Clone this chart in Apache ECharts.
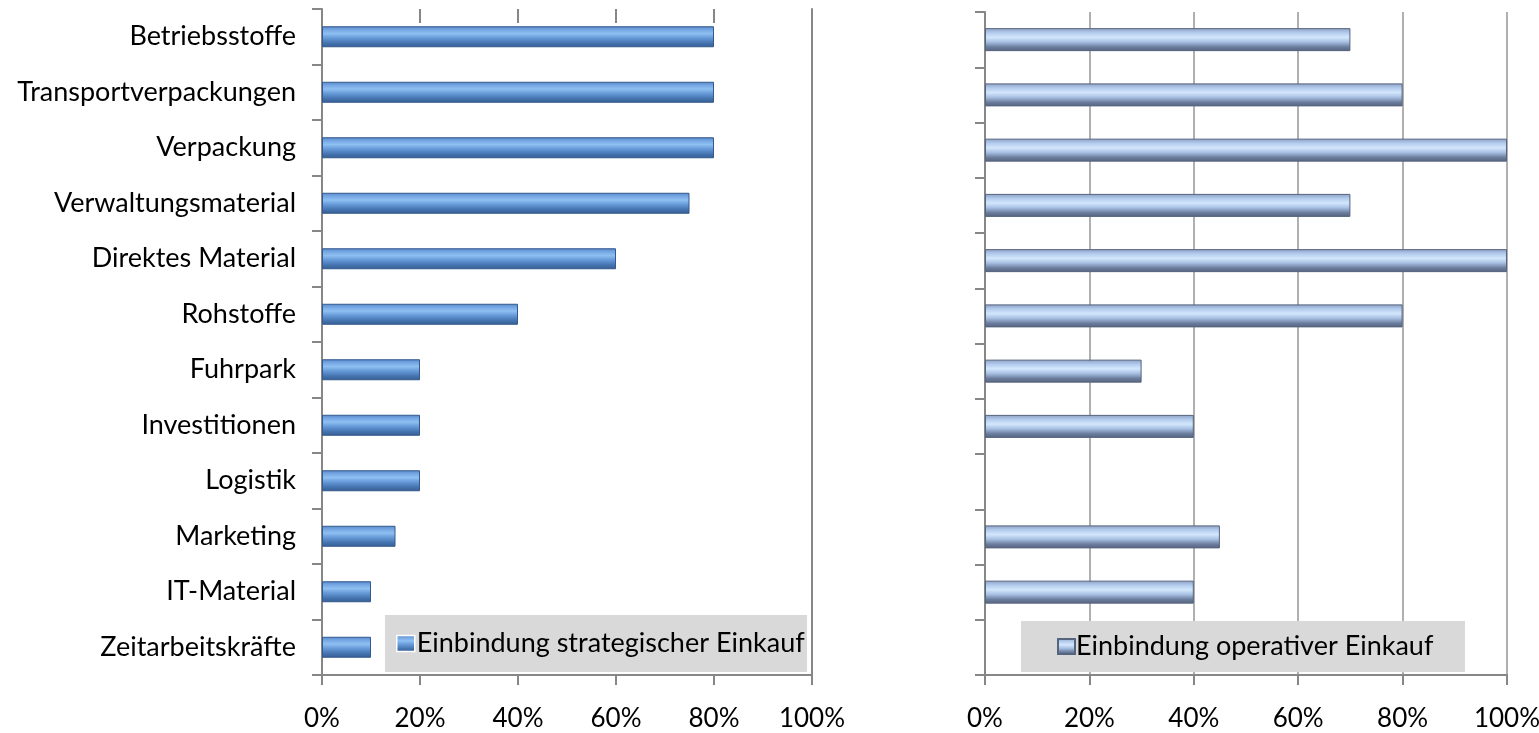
<!DOCTYPE html>
<html>
<head>
<meta charset="utf-8">
<script src="https://cdn.jsdelivr.net/npm/echarts@6/dist/echarts.min.js"></script>
<style>
html,body{margin:0;padding:0;background:#fff;}
#chart{width:1539px;height:733px;}
</style>
</head>
<body>
<div id="chart"></div>
<script>
const categories = ['Betriebsstoffe','Transportverpackungen','Verpackung','Verwaltungsmaterial','Direktes Material','Rohstoffe','Fuhrpark','Investitionen','Logistik','Marketing','IT-Material','Zeitarbeitskräfte'];
const strategicValues = [80,80,80,75,60,40,20,20,20,15,10,10];
const operativeValues = [70,80,100,70,100,80,30,40,null,45,40,null];
const xTickValues = [0,20,40,60,80,100];
const seriesNames = ['Einbindung strategischer Einkauf','Einbindung operativer Einkauf'];

const FONT = 'Lato';
const axisColor = '#878787';

const chart = echarts.init(document.getElementById('chart'));

const leftGrad = new echarts.graphic.LinearGradient(0,0,0,1,[
  {offset:0,color:'#5486c8'},
  {offset:0.15,color:'#73a4e2'},
  {offset:0.35,color:'#8fc0f2'},
  {offset:0.55,color:'#679bd9'},
  {offset:0.8,color:'#4574b0'},
  {offset:1,color:'#365d92'}
]);
const rightGrad = new echarts.graphic.LinearGradient(0,0,0,1,[
  {offset:0,color:'#8aa0c4'},
  {offset:0.2,color:'#b3cbed'},
  {offset:0.4,color:'#d3e7fc'},
  {offset:0.6,color:'#a8c0e3'},
  {offset:0.82,color:'#6b7d9d'},
  {offset:1,color:'#55637d'}
]);

function valueAxis(gridIndex, split){
  return {
    type:'value', gridIndex:gridIndex, min:0, max:100, interval:20,
    axisLine:{show:true,onZero:false,lineStyle:{color:axisColor,width:2}},
    axisTick:{show:true,length:10,lineStyle:{color:axisColor,width:2}},
    axisLabel:{formatter:function(v){return v+'%';},fontFamily:FONT,fontSize:26,color:'#000',margin:31},
    splitLine:{show:split,lineStyle:{color:'#969696',width:1.5}}
  };
}

const option = {
  animation:false,
  textStyle:{fontFamily:FONT},
  grid:[
    {left:322,top:9,width:490,height:666,containLabel:false,outerBoundsMode:'none'},
    {left:985,top:12,width:522,height:663,containLabel:false,outerBoundsMode:'none'}
  ],
  xAxis:[
    valueAxis(0,false),
    valueAxis(1,true),
    {type:'value',gridIndex:0,position:'top',min:0,max:100,interval:20,
     axisLine:{show:false,onZero:false},axisLabel:{show:false},splitLine:{show:false},
     axisTick:{show:true,inside:true,length:14,lineStyle:{color:axisColor,width:2}}}
  ],
  yAxis:[
    {type:'category',gridIndex:0,data:categories,inverse:true,
     axisLine:{show:true,onZero:false,lineStyle:{color:axisColor,width:2}},
     axisTick:{show:true,length:10,lineStyle:{color:axisColor,width:2}},
     axisLabel:{fontFamily:FONT,fontSize:27,color:'#000',margin:26}},
    {type:'category',gridIndex:1,data:categories,inverse:true,
     axisLine:{show:true,onZero:false,lineStyle:{color:axisColor,width:2}},
     axisTick:{show:true,length:10,lineStyle:{color:axisColor,width:2}},
     axisLabel:{show:false}},
    {type:'category',gridIndex:0,data:categories,inverse:true,position:'right',
     axisLine:{show:true,onZero:false,lineStyle:{color:axisColor,width:2}},
     axisTick:{show:false},axisLabel:{show:false}}
  ],
  graphic:[
    {type:'rect',z:3,shape:{x:385,y:615,width:422,height:57},style:{fill:'#d9d9d9'}},
    {type:'rect',z:3,shape:{x:1021,y:621,width:444,height:51},style:{fill:'#d9d9d9'}}
  ],
  legend:[
    {data:[{name:seriesNames[0],icon:'rect'}],left:396,top:630,padding:0,itemWidth:18,itemHeight:16,itemGap:0,
     textStyle:{fontFamily:FONT,fontSize:27,color:'#000',padding:[0,0,0,-3]},z:5,
     itemStyle:{borderColor:'#fff',borderWidth:1.5}},
    {data:[{name:seriesNames[1],icon:'rect'}],left:1057,top:633,padding:0,itemWidth:17,itemHeight:15,itemGap:0,
     textStyle:{fontFamily:FONT,fontSize:27,color:'#000',padding:[0,0,0,-4]},z:5}
  ],
  series:[
    {name:seriesNames[0],type:'bar',xAxisIndex:0,yAxisIndex:0,data:strategicValues,barWidth:21,
     itemStyle:{color:leftGrad,borderColor:'#34598c',borderWidth:1}},
    {name:seriesNames[1],type:'bar',xAxisIndex:1,yAxisIndex:1,data:operativeValues,barWidth:23,
     itemStyle:{color:rightGrad,borderColor:'#56647e',borderWidth:1}}
  ]
};
chart.setOption(option);
</script>
</body>
</html>
